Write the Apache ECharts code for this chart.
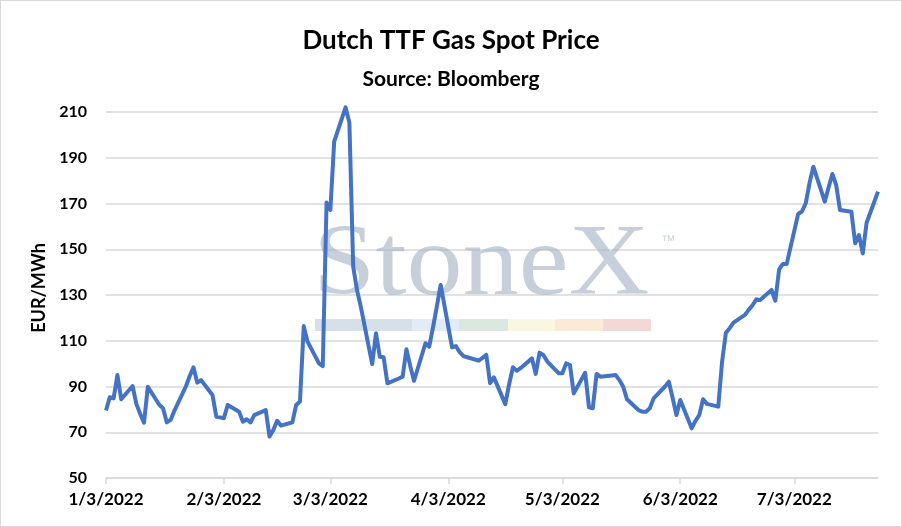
<!DOCTYPE html>
<html>
<head>
<meta charset="utf-8">
<script src="https://cdn.jsdelivr.net/npm/echarts@6/dist/echarts.min.js"></script>
<style>
  html, body { margin: 0; padding: 0; background: #fff; }
  #chart { width: 902px; height: 527px; box-sizing: border-box; border: 1px solid #d9d9d9; }
</style>
</head>
<body>
<div id="chart"></div>
<script>
// trading days per month and the spot price (EUR/MWh)
const janDays = [3, 4, 5, 6, 7, 10, 11, 12, 13, 14, 17, 18, 19, 20, 21, 24, 25, 26, 27, 28, 31]
const janPrices = [79.5, 85.3, 84.8, 95, 84.4, 90.2, 82.3, 78, 74.2, 89.9, 82, 80.5, 74.3, 75.4, 79.5, 90, 94.5, 98.4, 91.7, 92.8, 86.3]
const febDays = [1, 2, 3, 4, 7, 8, 9, 10, 11, 14, 15, 16, 17, 18, 21, 22, 23, 24, 25, 28]
const febPrices = [76.8, 76.5, 76.1, 81.9, 79, 74.6, 75.7, 74.3, 77.5, 79.7, 68.1, 71, 75, 72.9, 74.3, 81.9, 83.4, 116.4, 109.6, 100.1]
const marDays = [1, 2, 3, 4, 7, 8, 9, 10, 11, 14, 15, 16, 17, 18, 21, 22, 23, 24, 25, 28, 29, 30, 31]
const marPrices = [98.9, 170.4, 167.2, 197, 212, 205.3, 142.4, 132.2, 124.9, 99.8, 113.3, 103, 102.8, 91.4, 93.5, 94.3, 106.3, 99, 92.5, 108.9, 107.4, 116, 125]
const aprDays = [1, 4, 5, 6, 7, 8, 11, 12, 13, 14, 15, 18, 19, 20, 21, 22, 25, 26, 27, 28, 29]
const aprPrices = [134.4, 107.1, 107.7, 105, 103.3, 102.8, 101.3, 102.5, 103.8, 91.4, 94, 82.3, 91, 98.4, 96.9, 98, 102.3, 95.5, 104.8, 103.8, 101]
const mayDays = [2, 3, 4, 5, 6, 9, 10, 11, 12, 13, 16, 17, 18, 19, 20, 23, 24, 25, 26, 27, 30, 31]
const mayPrices = [95.8, 95.8, 100.1, 99.4, 87, 96, 80.9, 80.5, 95.5, 94.3, 94.8, 95, 92.8, 89.9, 84.4, 79.7, 79, 79, 80.5, 84.8, 90, 92.1]
const junDays = [1, 2, 3, 6, 7, 8, 9, 10, 13, 14, 15, 16, 17, 20, 21, 22, 23, 24, 27, 28, 29, 30]
const junPrices = [85, 77.5, 84.1, 71.7, 75, 77.5, 84.4, 82.4, 81.2, 100.8, 113.5, 115.5, 117.9, 121.3, 123.5, 125.5, 128.1, 127.8, 132.2, 127.5, 141.2, 143.6]
const julDays = [1, 4, 5, 6, 7, 8, 11, 12, 13, 14, 15, 18, 19, 20, 21, 22, 25]
const julPrices = [143.6, 165.4, 166.5, 170.1, 179, 186.1, 170.8, 177, 182.9, 178.1, 167.2, 166.4, 152.6, 156.2, 148.2, 161.6, 175.2]

const yMin = 50
const yMax = 210
const yStep = 20

const months = [
	[1, janDays, janPrices], [2, febDays, febPrices], [3, marDays, marPrices],
	[4, aprDays, aprPrices], [5, mayDays, mayPrices], [6, junDays, junPrices],
	[7, julDays, julPrices]
]

// date axis: every calendar day, weekends left empty and bridged by the line
const lookup = {}
months.forEach(([m, days, vals]) => days.forEach((d, i) => { lookup[m + '/' + d] = vals[i] }))

const DAY = 86400000
const categories = []
const values = []
for (let t = Date.UTC(2022, 0, 3); t <= Date.UTC(2022, 6, 25); t += DAY) {
	const dt = new Date(t)
	const key = (dt.getUTCMonth() + 1) + '/' + dt.getUTCDate()
	categories.push(key + '/2022')
	values.push(key in lookup ? lookup[key] : null)
}

const isMonthTick = (i, v) => v.split('/')[1] === '3'
const font = 'Lato'

const chart = echarts.init(document.getElementById('chart'))

// watermark colour strip
const barColors = ['#d3dbe6', '#d3dbe6', '#deeaf5', '#d7e6dc', '#f8f6dd', '#fbe8d2', '#f2d4d4']
const barSegs = [[314, 48], [362, 49], [411, 47], [458, 49], [507, 47], [554, 48], [602, 48]]

chart.setOption({
	animation: false,
	title: [
		{
			text: 'Dutch TTF Gas Spot Price',
			left: 'center',
			top: 22,
			textStyle: { fontFamily: font, fontSize: 26, fontWeight: 'bold', color: '#000' }
		},
		{
			text: 'Source: Bloomberg',
			left: 'center',
			top: 63,
			textStyle: { fontFamily: font, fontSize: 21, fontWeight: 'bold', color: '#000' }
		}
	],
	graphic: [
		{
			type: 'text',
			x: 312,
			y: 266,
			scaleX: 1.1,
			z: 1,
			silent: true,
			style: {
				text: 'StoneX',
				font: '102px "Liberation Serif"',
				fill: 'rgba(165,179,196,0.62)',
				verticalAlign: 'middle'
			}
		},
		{
			type: 'text',
			x: 660,
			y: 240,
			z: 1,
			silent: true,
			style: { text: '™', font: '14px "Liberation Sans"', fill: 'rgba(165,179,196,0.6)', verticalAlign: 'middle' }
		},
		...barSegs.map(([x, w], i) => ({
			type: 'rect',
			z: 1,
			silent: true,
			shape: { x: x, y: 318, width: w, height: 12 },
			style: { fill: barColors[i], opacity: 0.9 }
		}))
	],
	grid: { left: 105, right: 23, top: 111, bottom: 48 },
	xAxis: {
		type: 'category',
		data: categories,
		boundaryGap: false,
		axisLine: { lineStyle: { color: '#d9d9d9', width: 1.5 } },
		axisTick: { interval: isMonthTick, length: 6, lineStyle: { color: '#d9d9d9', width: 1.5 } },
		axisLabel: {
			interval: isMonthTick,
			margin: 13,
			fontFamily: font,
			fontSize: 17,
			fontWeight: 'bold',
			color: '#000'
		},
		splitLine: { show: false }
	},
	yAxis: {
		type: 'value',
		min: yMin,
		max: yMax,
		interval: yStep,
		name: 'EUR/MWh',
		nameLocation: 'middle',
		nameGap: 57,
		nameTextStyle: { fontFamily: font, fontSize: 18, fontWeight: 'bold', color: '#000', padding: [0, 0, 0, 14] },
		axisLine: { show: false },
		axisTick: { show: false },
		axisLabel: { margin: 19, fontFamily: font, fontSize: 16, fontWeight: 'bold', color: '#000' },
		splitLine: { lineStyle: { color: '#d9d9d9', width: 1.5 } }
	},
	series: [
		{
			type: 'line',
			data: values,
			connectNulls: true,
			showSymbol: false,
			clip: false,
			z: 3,
			lineStyle: { color: '#4472c4', width: 4, join: 'round' }
		}
	]
})
</script>
</body>
</html>
